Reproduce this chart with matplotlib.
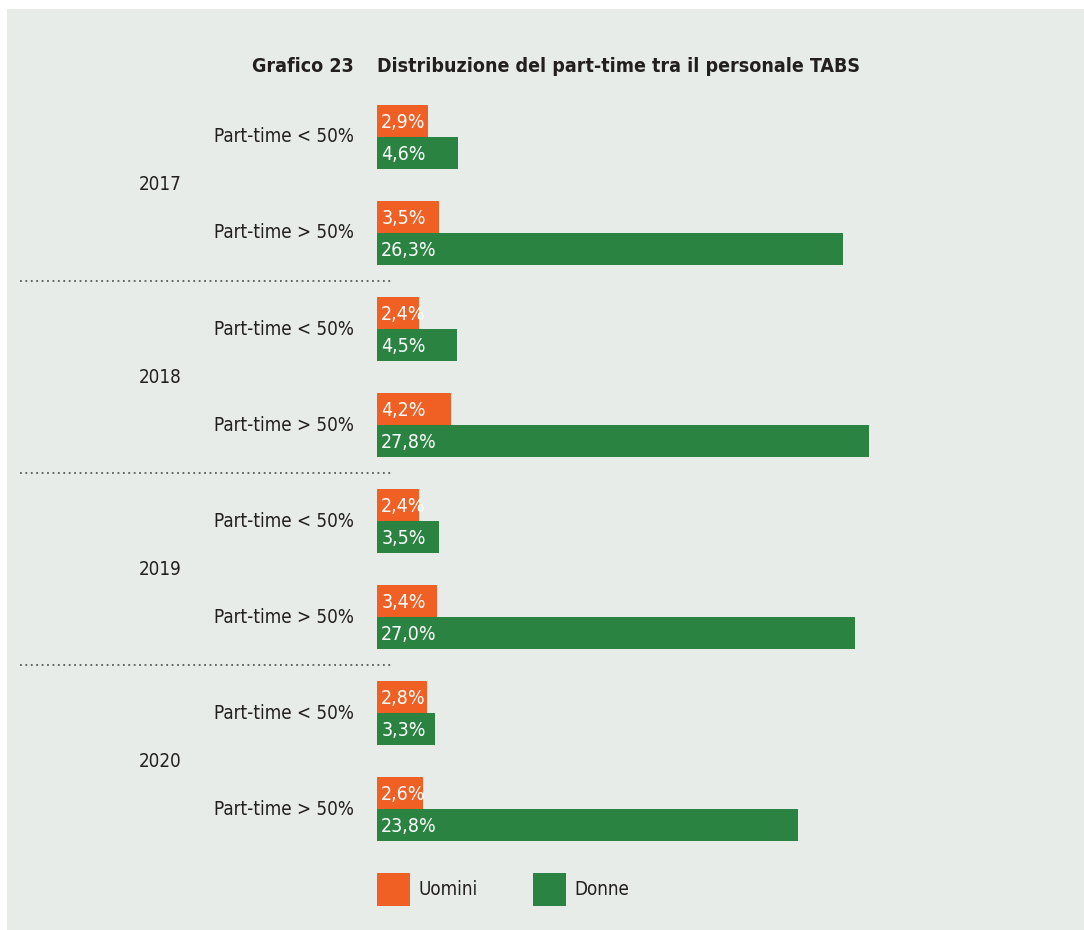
import matplotlib.pyplot as plt
from matplotlib.patches import Rectangle

years = ["2017", "2018", "2019", "2020"]
categories = ["Part-time < 50%", "Part-time > 50%"]
uomini = [[2.9, 3.5], [2.4, 4.2], [2.4, 3.4], [2.8, 2.6]]
donne = [[4.6, 26.3], [4.5, 27.8], [3.5, 27.0], [3.3, 23.8]]
series_names = ["Uomini", "Donne"]

ORANGE = "#F05F23"
GREEN = "#2A8340"
BG = "#E7ECE8"
TEXT = "#231F20"
FONT = "DejaVu Sans"
STRETCH = "condensed"

W, H = 1084, 930
fig = plt.figure(figsize=(W / 100, H / 100), dpi=100)
fig.patches.append(Rectangle((7 / W, 0), 1, 1 - 9 / H, transform=fig.transFigure,
                             facecolor=BG, edgecolor="none", zorder=-1))

# bar area: x in percent, y in bar-height units (one bar = 32 px)
px_per_pct = 17.7
x_max = 30
ax = fig.add_axes([377 / W, 1 - 841 / H, x_max * px_per_pct / W, 736 / H])
ax.set_xlim(0, x_max)
ax.set_ylim(23, 0)
ax.axis("off")

def fmt(v):
    return f"{v:.1f}".replace(".", ",") + "%"

for i, year in enumerate(years):
    for j, cat in enumerate(categories):
        top = 6 * i + 3 * j
        for k, (vals, color) in enumerate([(uomini, ORANGE), (donne, GREEN)]):
            v = vals[i][j]
            ax.barh(top + k + 0.5, v, height=1, color=color, edgecolor="none")
            ax.annotate(fmt(v), xy=(0, top + k + 0.5), xytext=(3, -1),
                        textcoords="offset points", ha="left", va="center",
                        color="white", fontsize=14, family=FONT, stretch=STRETCH)
        ax.annotate(cat, xy=(0, top + 1), xycoords=ax.get_yaxis_transform(),
                    xytext=(-16.5, 0), textcoords="offset points",
                    ha="right", va="center", color=TEXT, fontsize=13.5,
                    family=FONT, stretch=STRETCH, annotation_clip=False)
    ax.annotate(year, xy=(0, 6 * i + 2.5), xycoords=ax.get_yaxis_transform(),
                xytext=(-156, 0), textcoords="offset points",
                ha="center", va="center", color=TEXT, fontsize=13.5,
                family=FONT, stretch=STRETCH, annotation_clip=False)
    if i < len(years) - 1:
        ax.plot([-357 / 531, 15 / 531], [6 * i + 5.5] * 2,
                transform=ax.get_yaxis_transform(), clip_on=False,
                color="#58595B", lw=1.3, linestyle=(0, (1, 2)))

# title
fig.text(354 / W, 1 - 66 / H, "Grafico 23", ha="right", va="center",
         fontsize=14, fontweight="bold", color=TEXT, family=FONT, stretch=STRETCH)
fig.text(377 / W, 1 - 66 / H, "Distribuzione del part-time tra il personale TABS",
         ha="left", va="center", fontsize=14, fontweight="bold", color=TEXT,
         family=FONT, stretch=STRETCH)

# legend
for name, color, x0 in zip(series_names, [ORANGE, GREEN], [377, 533]):
    fig.patches.append(Rectangle((x0 / W, 1 - 906 / H), 33 / W, 33 / H,
                                 transform=fig.transFigure, facecolor=color,
                                 edgecolor="none"))
    fig.text((x0 + 41) / W, 1 - 889 / H, name, ha="left", va="center",
             fontsize=13.5, color=TEXT, family=FONT, stretch=STRETCH)

fig.savefig("out.png", dpi=100, facecolor="white")
